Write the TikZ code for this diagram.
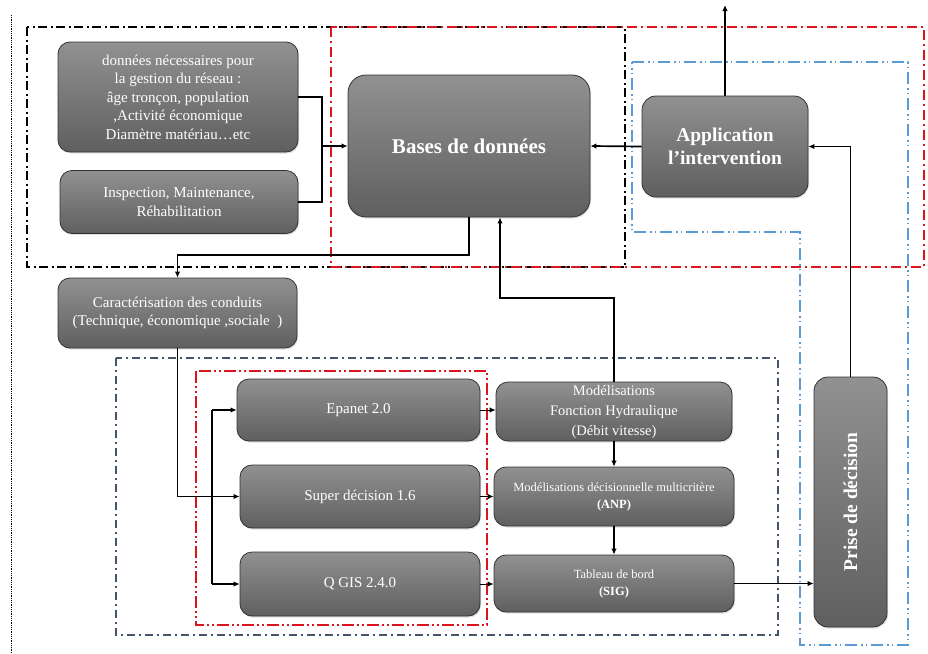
\documentclass[tikz,border=0pt]{standalone}
\usepackage{fontspec}
\setmainfont{Liberation Serif}
\usetikzlibrary{arrows.meta,shadows}
\definecolor{fr}{RGB}{220,20,30}
\definecolor{lb}{RGB}{91,155,213}
\definecolor{db}{RGB}{68,84,106}
\definecolor{gtop}{RGB}{145,145,145}
\definecolor{gbot}{RGB}{95,95,95}
\tikzset{
  box/.style={draw=black!80, line width=0.8pt, rounded corners=12pt, top color=gtop, bottom color=gbot,
    text=white, align=center, inner sep=2pt, font=\fontsize{15}{18.5}\selectfont,
    drop shadow={opacity=0.25, shadow xshift=1pt, shadow yshift=-1.5pt}},
  conn/.style={line width=1.7pt, black},
  arr/.style={conn, -{Latex[length=6pt,width=5.5pt]}},
  blackframe/.style={line width=1.7pt, black, dash pattern=on 9pt off 3.5pt on 2pt off 3.5pt},
  redframe/.style={line width=1.5pt, fr, dash pattern=on 10pt off 4pt on 2pt off 4pt},
  lbframe/.style={line width=1.5pt, lb, dash pattern=on 12pt off 4pt on 1.5pt off 3pt on 1.5pt off 4pt},
  dbframe/.style={line width=1.5pt, db, dash pattern=on 8pt off 4pt on 2pt off 4pt},
  rinframe/.style={line width=1.6pt, fr, dash pattern=on 12pt off 3pt on 2pt off 3pt on 2pt off 3pt},
}
\begin{document}
\begin{tikzpicture}[x=1pt,y=-1pt]
\useasboundingbox (0,0) rectangle (928,653);
% frames
\draw[black, line width=0.8pt, densely dotted] (11,15) -- (11,653);
\draw[blackframe] (27,27) rectangle (625,267);
\draw[redframe] (331,27) rectangle (924,267);
\draw[lbframe] (632,62) -- (908,62) -- (908,645) -- (800,645) -- (800,232) -- (632,232) -- cycle;
\draw[dbframe] (116,358) rectangle (778,635);
\draw[rinframe] (196,371) rectangle (487,625);
% nodes
\node[box, minimum width=240pt, minimum height=110pt] (d1) at (178,97)
  {données nécessaires pour\\la gestion du réseau :\\âge tronçon, population\\,Activité économique\\Diamètre matériau\dots etc};
\node[box, minimum width=238pt, minimum height=63pt] (d2) at (179,202)
  {Inspection, Maintenance,\\Réhabilitation};
\node[box, rounded corners=18pt, minimum width=242pt, minimum height=142pt, font=\fontsize{21}{25}\selectfont\bfseries] (bases) at (469,146)
  {Bases de données};
\node[box, rounded corners=14pt, minimum width=166pt, minimum height=101pt, font=\fontsize{19.5}{23}\selectfont\bfseries] (app) at (725,146.5)
  {Application\\l'intervention};
\node[box, minimum width=239pt, minimum height=70pt] (car) at (177.5,313)
  {Caractérisation des conduits\\(Technique, économique ,sociale~~)};
\node[box, minimum width=243pt, minimum height=62pt] (ep) at (358.5,410) {Epanet 2.0};
\node[box, minimum width=240pt, minimum height=63pt] (sd) at (360,496.5) {Super décision 1.6};
\node[box, minimum width=240pt, minimum height=64pt] (qg) at (360,584) {Q GIS 2.4.0};
\node[box, minimum width=236pt, minimum height=59pt, font=\fontsize{14.5}{20}\selectfont] (mh) at (614,411.5)
  {Modélisations\\Fonction Hydraulique\\(Débit vitesse)};
\node[box, minimum width=240pt, minimum height=59pt, font=\fontsize{12.5}{17}\selectfont] (md) at (614,496.5)
  {Modélisations décisionnelle multicritère\\\textbf{(ANP)}};
\node[box, minimum width=240pt, minimum height=57pt, font=\fontsize{12.5}{17}\selectfont] (tb) at (614,583.5)
  {Tableau de bord\\\textbf{(SIG)}};
\node[box, rounded corners=14pt, minimum width=73pt, minimum height=250pt] (pd) at (850.5,502) {};
\node[rotate=90, text=white, font=\fontsize{19.5}{23}\selectfont\bfseries] (pdt) at (pd.center) {Prise de décision};
% connectors
\coordinate (j) at (322,146);
\coordinate (top) at (725,5);
\coordinate (dn) at (469,255);
\coordinate (up) at (500,298);
\coordinate (bx) at (212,0);
\draw[conn] (d1.east) -| (j |- d2.east) -- (d2.east);
\draw[arr] (j |- bases.west) -- (bases.west);
\draw[arr] (app.west) -- (bases.east);
\draw[arr] (app.north) -- (top);
\draw[arr] (pd.north) |- (app.east);
\draw[arr] (bases.south) -- (dn) -| (car.north);
\draw[arr] (mh.north) |- (up) -- (up |- bases.south);
\draw[arr] (car.south) |- (sd.west);
\draw[conn] (bx |- ep.west) -- (bx |- qg.west);
\draw[arr] (bx |- ep.west) -- (ep.west);
\draw[arr] (bx |- qg.west) -- (qg.west);
\draw[arr, line width=1pt] (ep.east) -- (ep.east -| mh.west);
\draw[arr, line width=1pt] (sd.east) -- (sd.east -| md.west);
\draw[arr, line width=1pt] (qg.east) -- (qg.east -| tb.west);
\draw[arr] (mh.south) -- (md.north);
\draw[arr] (md.south) -- (tb.north);
\draw[arr] (tb.east) -- (tb.east -| pd.west);
\end{tikzpicture}
\end{document}
